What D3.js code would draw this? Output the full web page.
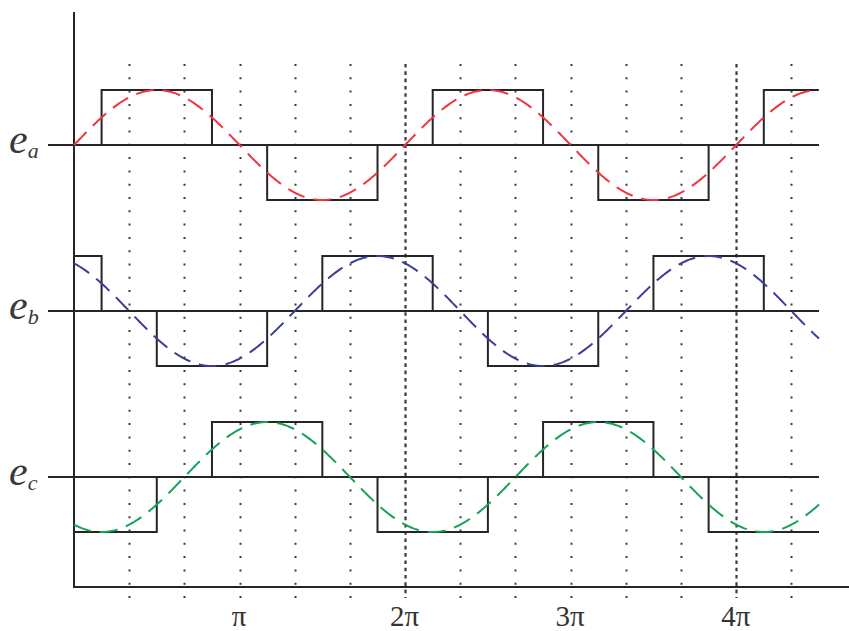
<!DOCTYPE html>
<html>
<head>
<meta charset="utf-8">
<script src="https://cdn.jsdelivr.net/npm/d3@7"></script>
<style>
  html, body { margin: 0; padding: 0; background: #fff; }
  svg { display: block; }
</style>
</head>
<body>
<svg id="chart" width="849" height="631"></svg>
<script>
// Three-phase six-step voltages against their fundamental sine components.
const phases = ["a", "b", "c"];
// Step edges, in units of π/6, and the level held between consecutive edges.
const stepEdgesA = [0, 1, 5, 7, 11, 13, 17, 19, 23, 25, 27];
const stepLevelsA = [0, 1, 0, -1, 0, 1, 0, -1, 0, 1];
const stepEdgesB = [0, 1, 3, 7, 9, 13, 15, 19, 21, 25, 27];
const stepLevelsB = [1, 0, -1, 0, 1, 0, -1, 0, 1, 0];
const stepEdgesC = [0, 3, 5, 9, 11, 15, 17, 21, 23, 27];
const stepLevelsC = [-1, 0, 1, 0, -1, 0, 1, 0, -1];
// Phase shift of each fundamental, in units of π/3.
const phaseShift = [0, 2, -2];
const curveColors = ["#f03440", "#3c3f97", "#17a257"];
// Bottom axis ticks, in multiples of π.
const tickValues = [1, 2, 3, 4];
const tickLabels = ["π", "2π", "3π", "4π"];
// Vertical guides every π/3; the ones at whole multiples of 2π are emphasised.
const gridSteps = d3.range(1, 14);
const xMax = 4.5; // in multiples of π

const PI = Math.PI;
const svg = d3.select("#chart");

const x = d3.scaleLinear().domain([0, xMax * PI]).range([74, 819]);
const rowY = d3.scalePoint().domain(phases).range([145, 477]);
const amp = 55;
const yFor = p => d3.scaleLinear().domain([-1, 1]).range([rowY(p) + amp, rowY(p) - amp]);

const ink = "#262425";

// vertical dotted guides
svg.append("g").selectAll("line")
  .data(gridSteps)
  .join("line")
  .attr("x1", k => Math.round(x(k * PI / 3)) + 0.5)
  .attr("x2", k => Math.round(x(k * PI / 3)) + 0.5)
  .attr("y1", 64)
  .attr("y2", 598)
  .attr("stroke", "#3a3a3a")
  .attr("stroke-width", k => k % 6 === 0 ? 2.2 : 2)
  .attr("stroke-dasharray", k => k % 6 === 0 ? "3.6 3.7" : "2 11.3");

// y axis and x axis lines
svg.append("line")
  .attr("x1", 74).attr("x2", 74).attr("y1", 12).attr("y2", 587)
  .attr("stroke", ink).attr("stroke-width", 2);
svg.append("line")
  .attr("x1", 73).attr("x2", 849).attr("y1", 587).attr("y2", 587)
  .attr("stroke", ink).attr("stroke-width", 2);

// x tick labels
const axis = d3.axisBottom(x)
  .tickValues(tickValues.map(v => v * PI))
  .tickSize(0)
  .tickFormat((d, i) => tickLabels[i]);
const gAxis = svg.append("g").attr("transform", "translate(-1,595)").call(axis);
gAxis.select(".domain").remove();
gAxis.selectAll("text")
  .attr("font-family", "'Liberation Serif', 'Times New Roman', serif")
  .attr("font-size", 29)
  .attr("fill", "#333")
  .attr("dy", "0.95em");

const stepData = {
  a: { edges: stepEdgesA, levels: stepLevelsA },
  b: { edges: stepEdgesB, levels: stepLevelsB },
  c: { edges: stepEdgesC, levels: stepLevelsC }
};

phases.forEach((p, i) => {
  const y = yFor(p);

  // phase baseline
  svg.append("line")
    .attr("x1", 48).attr("x2", 819)
    .attr("y1", y(0)).attr("y2", y(0))
    .attr("stroke", ink).attr("stroke-width", 2);

  // six-step waveform
  const { edges, levels } = stepData[p];
  const pts = [];
  levels.forEach((lv, j) => {
    pts.push([edges[j] * PI / 6, lv]);
    pts.push([edges[j + 1] * PI / 6, lv]);
  });
  svg.append("path")
    .datum(pts)
    .attr("fill", "none")
    .attr("stroke", ink)
    .attr("stroke-width", 2)
    .attr("stroke-linejoin", "miter")
    .attr("d", d3.line().x(d => x(d[0])).y(d => y(d[1])));

  // fundamental component
  const shift = phaseShift[i] * PI / 3;
  const samples = d3.range(0, 541).map(k => (k / 540) * xMax * PI);
  svg.append("path")
    .datum(samples)
    .attr("fill", "none")
    .attr("stroke", curveColors[i])
    .attr("stroke-width", 2)
    .attr("stroke-dasharray", "18 9")
    .attr("d", d3.line().x(t => x(t)).y(t => y(Math.sin(t + shift))));

  // phase label
  const label = svg.append("text")
    .attr("x", 9)
    .attr("y", y(0) + 8)
    .attr("font-family", "'Liberation Serif', 'Times New Roman', serif")
    .attr("font-style", "italic")
    .attr("fill", "#3a3a3a");
  label.append("tspan").attr("font-size", 42).text("e");
  label.append("tspan").attr("font-size", 22).attr("dy", 5).text(p);
});
</script>
</body>
</html>
